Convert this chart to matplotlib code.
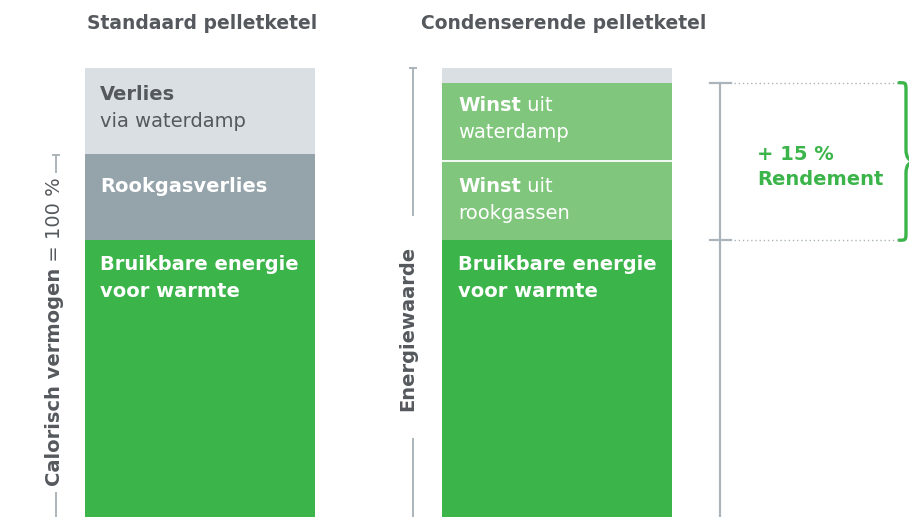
import matplotlib
matplotlib.use("Agg")
import matplotlib.pyplot as plt
from matplotlib import transforms
from matplotlib.path import Path
from matplotlib.patches import PathPatch

# ---------------- data ----------------
bars = ["Standaard pelletketel", "Condenserende pelletketel"]
left_segments = ["Bruikbare energie", "Rookgasverlies", "Verlies via waterdamp"]
left_values = [83.6, 8.2, 8.2]
right_segments = ["Bruikbare energie", "Winst uit rookgassen", "Winst uit waterdamp", "Restverlies"]
right_values = [83.6, 7.5, 7.5, 1.4]
gain_label = ["+ 15 %", "Rendement"]

# ---------------- style ----------------
C_LGRAY = "#d9dfe2"
C_GRAY = "#95a3aa"
C_GREEN = "#3bb44a"
C_LGREEN = "#80c67c"
C_TEXT = "#55595d"
C_LINE = "#aab4ba"
FONT = "DejaVu Sans"
FS = 14
FS_HEAD = 13.5

W, H = 909, 517
fig = plt.figure(figsize=(W / 100, H / 100), dpi=100)
ax = fig.add_axes([0, 0, 1, 1])
ax.set_axis_off()

# layout: bar centres 357 px apart, left centre at 200 px
step = 357.0
x0 = -200.0 / step
ax.set_xlim(x0, x0 + W / step)
px_per_unit = 10.5
ax.set_ylim(100 - (H - 68) / px_per_unit, 100 + 68 / px_per_unit)
width = 230.0 / step

def fx(px):
    return px / W

def fy(py):
    return 1 - py / H

tr = transforms.blended_transform_factory(ax.transAxes, ax.transData)
tra = ax.transAxes

# bars
lcols = [C_GREEN, C_GRAY, C_LGRAY]
bottom = 0
for v, c in zip(left_values, lcols):
    ax.bar(0, v, width=width, bottom=bottom, color=c, linewidth=0)
    bottom += v
rcols = [C_GREEN, C_LGREEN, C_LGREEN, C_LGRAY]
bottom = 0
tops = []
for v, c in zip(right_values, rcols):
    ax.bar(1, v, width=width, bottom=bottom, color=c, linewidth=0)
    bottom += v
    tops.append(bottom)
# white separator between the two gain segments
ax.plot([1 - width / 2, 1 + width / 2], [tops[1], tops[1]], color="white", lw=1.3, solid_capstyle="butt")

# headers
ax.text(fx(87), fy(29), bars[0], transform=tra, ha="left", va="baseline",
        fontsize=FS_HEAD, fontweight="bold", color=C_TEXT, family=FONT)
ax.text(fx(421), fy(29), bars[1], transform=tra, ha="left", va="baseline",
        fontsize=FS_HEAD, fontweight="bold", color=C_TEXT, family=FONT)

def two_part(x, y, bold, regular, color):
    t = ax.text(fx(x), fy(y), bold, transform=tra, ha="left", va="baseline",
                fontsize=FS, fontweight="bold", color=color, family=FONT)
    if regular:
        ax.annotate(regular, xy=(1, 0), xycoords=t, ha="left", va="bottom",
                    fontsize=FS, color=color, family=FONT)
    return t

def plain(x, y, s, color, weight="normal"):
    ax.text(fx(x), fy(y), s, transform=tra, ha="left", va="baseline",
            fontsize=FS, fontweight=weight, color=color, family=FONT)

# left bar labels
plain(100, 100, "Verlies", C_TEXT, "bold")
plain(100, 127, "via waterdamp", C_TEXT)
plain(100, 192, "Rookgasverlies", "white", "bold")
plain(100, 270, "Bruikbare energie", "white", "bold")
plain(100, 297, "voor warmte", "white", "bold")

# right bar labels
two_part(458, 111, "Winst", " uit", "white")
plain(458, 138, "waterdamp", "white")
two_part(458, 192, "Winst", " uit", "white")
plain(458, 219, "rookgassen", "white")
plain(458, 270, "Bruikbare energie", "white", "bold")
plain(458, 297, "voor warmte", "white", "bold")

# gain label
plain(757, 160, gain_label[0], C_GREEN, "bold")
plain(757, 185, gain_label[1], C_GREEN, "bold")

# left vertical label
tb = ax.text(fx(55), fy(486), "Calorisch vermogen", transform=tra, rotation=90,
             ha="center", va="bottom", fontsize=FS, fontweight="bold", color=C_TEXT, family=FONT)
ax.annotate(" = 100 %", xy=(0.5, 1), xycoords=tb, rotation=90, ha="center", va="bottom",
            fontsize=FS, color=C_TEXT, family=FONT)
ax.plot([fx(56), fx(56)], [fy(155), fy(172)], transform=tra, color=C_LINE, lw=1.4)
ax.plot([fx(53), fx(59)], [fy(155), fy(155)], transform=tra, color=C_LINE, lw=1.4)
ax.plot([fx(56), fx(56)], [fy(493), fy(517)], transform=tra, color=C_LINE, lw=1.4)

# Energiewaarde
ax.text(fx(408), fy(328), "Energiewaarde", transform=tra, rotation=90,
        ha="center", va="center", fontsize=FS, fontweight="bold", color=C_TEXT, family=FONT)
total = sum(right_values)
ax.plot([fx(413), fx(413)], [total, 100 - (215 - 68) / px_per_unit], transform=tr, color=C_LINE, lw=1.4)
ax.plot([fx(410), fx(416)], [total, total], transform=tr, color=C_LINE, lw=1.4)
ax.plot([fx(413), fx(413)], [fy(439), fy(517)], transform=tra, color=C_LINE, lw=1.4)

# gain bracket
g_top = tops[2]
g_bot = tops[0]
ax.plot([fx(720), fx(720)], [g_top, ax.get_ylim()[0]], transform=tr, color=C_LINE, lw=1.6)
for yv in (g_top, g_bot):
    ax.plot([fx(710), fx(731)], [yv, yv], transform=tr, color=C_LINE, lw=1.6)
    ax.plot([fx(734), fx(900)], [yv, yv], transform=tr, color=C_LINE, lw=1.0, ls=(0, (1, 2)))

# curly brace (pixel layout, y from data)
def dy(v):
    return 68 + (100 - v) * px_per_unit
yt, yb = dy(g_top), dy(g_bot)
ym = (yt + yb) / 2
pts = [
    (899, yt), (906, yt), (906, yt), (906, yt + 9),
    (906, ym - 12), (906, ym - 4), (909, ym), (916, ym),
    (909, ym), (906, ym + 4), (906, ym + 12),
    (906, yb - 9), (906, yb), (906, yb), (899, yb),
]
codes = [Path.MOVETO, Path.CURVE4, Path.CURVE4, Path.CURVE4,
         Path.LINETO, Path.CURVE4, Path.CURVE4, Path.CURVE4,
         Path.CURVE4, Path.CURVE4, Path.CURVE4,
         Path.LINETO, Path.CURVE4, Path.CURVE4, Path.CURVE4]
path = Path([(fx(x), fy(y)) for x, y in pts], codes)
ax.add_patch(PathPatch(path, transform=tra, facecolor="none", edgecolor=C_GREEN, lw=2.4, capstyle="round"))

fig.savefig("out.png", dpi=100)
